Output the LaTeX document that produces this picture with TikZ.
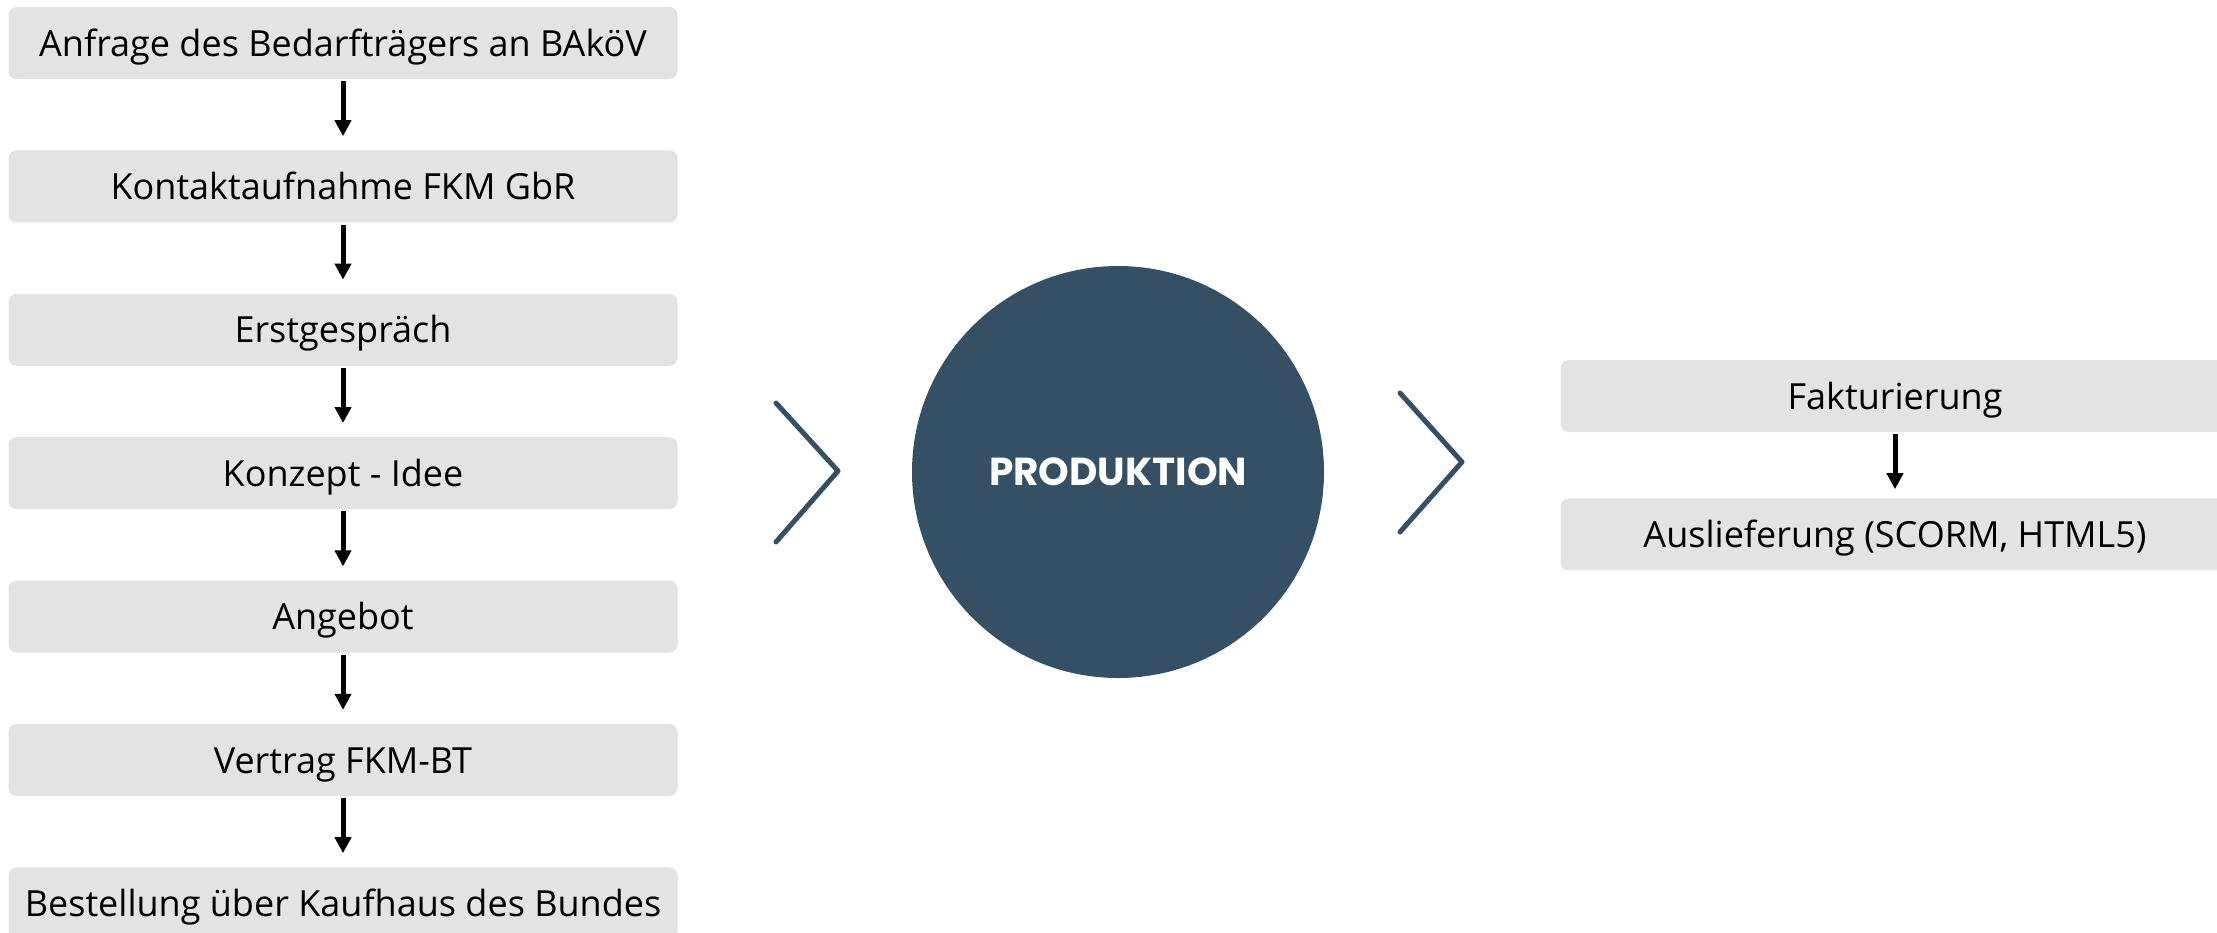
\documentclass[tikz,border=0pt]{standalone}
\usepackage{fontspec}
\setmainfont{Open Sans}
\newfontfamily\headfont{Poppins}
\usetikzlibrary{positioning,arrows.meta}

\definecolor{boxgrey}{HTML}{E3E3E3}
\definecolor{slate}{HTML}{355064}

\tikzset{
  stepbox/.style={fill=boxgrey, rounded corners=8pt, minimum width=669pt,
    minimum height=72pt, inner sep=0pt, text height=30pt, text depth=4pt,
    font=\fontsize{36}{40}\selectfont},
  flow/.style={line width=5pt, -{Triangle[width=16pt,length=16pt]},
    shorten <=2pt, shorten >=14pt},
  chevron/.style={draw=slate, line width=5pt, line cap=round, line join=round},
}

\begin{document}
\begin{tikzpicture}[x=1pt,y=1pt]
  \useasboundingbox (0,0) rectangle (2217,-932);

  % left column: from request to order
  \node[stepbox] (anfrage) at (343,-43) {Anfrage des Bedarfträgers an BAköV};
  \node[stepbox, below=71pt of anfrage] (kontakt) {Kontaktaufnahme FKM GbR};
  \node[stepbox, below=71pt of kontakt] (gespraech) {Erstgespräch};
  \node[stepbox, below=71pt of gespraech] (konzept) {Konzept - Idee};
  \node[stepbox, below=71pt of konzept] (angebot) {Angebot};
  \node[stepbox, below=71pt of angebot] (vertrag) {Vertrag FKM-BT};
  \node[stepbox, below=71pt of vertrag] (bestellung) {Bestellung über Kaufhaus des Bundes};

  \draw[flow] (anfrage) -- (kontakt);
  \draw[flow] (kontakt) -- (gespraech);
  \draw[flow] (gespraech) -- (konzept);
  \draw[flow] (konzept) -- (angebot);
  \draw[flow] (angebot) -- (vertrag);
  \draw[flow] (vertrag) -- (bestellung);

  % production in the middle
  \node[circle, fill=slate, minimum size=412pt, inner sep=0pt, text=white,
    font=\headfont\bfseries\fontsize{39}{44}\selectfont] (produktion) at (1118,-472) {PRODUKTION};

  \coordinate (cl1) at (776,-403);
  \coordinate (cl2) at (838,-471);
  \coordinate (cl3) at (776,-542);
  \draw[chevron] (cl1) -- (cl2) -- (cl3);
  \coordinate (cr1) at (1400,-393);
  \coordinate (cr2) at (1462,-462);
  \coordinate (cr3) at (1400,-532);
  \draw[chevron] (cr1) -- (cr2) -- (cr3);

  % right column: billing and delivery
  \node[stepbox] (faktura) at (1895,-396) {Fakturierung};
  \node[stepbox, below=66pt of faktura] (auslieferung) {Auslieferung (SCORM, HTML5)};
  \draw[flow, shorten >=9pt] (faktura) -- (auslieferung);
\end{tikzpicture}
\end{document}
